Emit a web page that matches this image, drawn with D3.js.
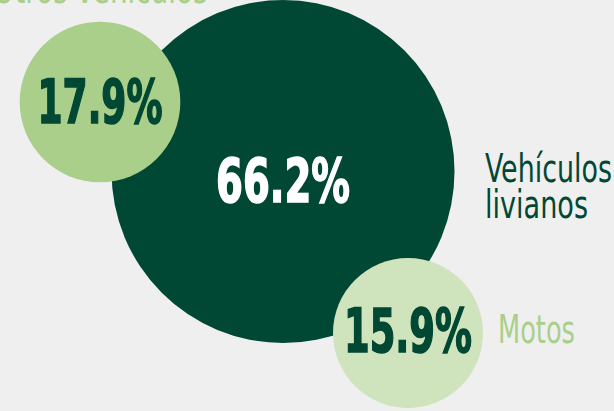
<!DOCTYPE html>
<html>
<head>
<meta charset="utf-8">
<style>
  html, body { margin: 0; padding: 0; background: #efefef; }
  svg { display: block; }
</style>
</head>
<body>
<svg width="614" height="411"></svg>
<script src="https://d3js.org/d3.v7.min.js"></script>
<script>
// data
var categories = ["Vehículos livianos", "Otros vehículos", "Motos"];
var values = [66.2, 17.9, 15.9];
var valueLabels = ["66.2%", "17.9%", "15.9%"];
var nameLines = [["Vehículos", "livianos"], ["Otros vehículos"], ["Motos"]];

var svg = d3.select("svg"),
    width = +svg.attr("width"),
    height = +svg.attr("height");

var fontNum = "'Liberation Sans Narrow', 'DejaVu Sans Condensed', sans-serif";

// radius from share (roughly area-ish, as in the original)
var r = d3.scalePow().exponent(0.58)
    .domain([0, d3.max(values)])
    .range([0, 171.5]);

// layout: circle centres, colours, label placement
var layout = [
  {cx: 283, cy: 171.5, fill: "#004833", num: "#ffffff", numDy: 30, numW: 134,
   name: "#004833", nx: 485, ny: 182, nAnchor: "start", nW: [127, 103]},
  {cx: 100, cy: 102, fill: "#a9cf8a", num: "#004833", numDy: 21, numW: 125,
   name: "#a9cf8a", nx: 100, ny: 3, nAnchor: "middle", nW: [215]},
  {cx: 408, cy: 333, fill: "#cfe3bd", num: "#004833", numDy: 18.5, numW: 128,
   name: "#a9cf8a", nx: 498, ny: 343, nAnchor: "start", nW: [77]}
];

var rows = categories.map(function(c, i) {
  return {name: c, value: values[i], label: valueLabels[i], lines: nameLines[i], l: layout[i]};
});

var g = svg.append("g");

g.selectAll("circle")
  .data(rows)
  .enter().append("circle")
    .attr("cx", function(d) { return d.l.cx; })
    .attr("cy", function(d) { return d.l.cy; })
    .attr("r", function(d) { return r(d.value); })
    .attr("fill", function(d) { return d.l.fill; });

// squeeze a text horizontally to a given width around its anchor x
function squeeze(sel, x, w) {
  var n = sel.node().getComputedTextLength();
  var k = w / n;
  sel.attr("x", 0)
     .attr("transform", function() {
       return "translate(" + x + "," + sel.attr("y") + ") scale(" + k + ",1)";
     })
     .attr("y", 0);
}

g.selectAll("text.num")
  .data(rows)
  .enter().append("text")
    .attr("class", "num")
    .attr("y", function(d) { return d.l.cy + d.l.numDy; })
    .attr("text-anchor", "middle")
    .attr("font-family", fontNum)
    .attr("font-weight", 700)
    .attr("font-size", 60)
    .attr("fill", function(d) { return d.l.num; })
    .attr("stroke", function(d) { return d.l.num; })
    .attr("stroke-width", 1.6)
    .text(function(d) { return d.label; })
    .each(function(d) { squeeze(d3.select(this), d.l.cx, d.l.numW); });

// category names
rows.forEach(function(d) {
  d.lines.forEach(function(line, k) {
    var t = g.append("text")
        .attr("y", d.l.ny + k * 36)
        .attr("font-family", fontNum)
        .attr("font-size", 39)
        .attr("fill", d.l.name)
        .attr("text-anchor", d.l.nAnchor)
        .text(line);
    squeeze(t, d.l.nx, d.l.nW[k]);
  });
});
</script>
</body>
</html>
